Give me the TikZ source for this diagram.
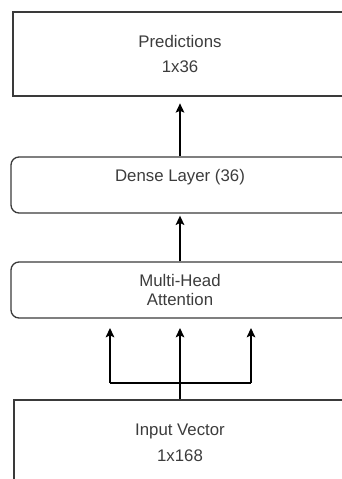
\documentclass[tikz,border=0pt]{standalone}
\usepackage{fontspec}
\setmainfont{Liberation Sans}
\usetikzlibrary{arrows.meta}
\definecolor{boxline}{HTML}{3A3A3A}
\definecolor{boxtext}{HTML}{3C3C3C}
\tikzset{
	layer/.style={draw=boxline, line width=1pt, text=boxtext, align=center,
		inner sep=0pt, font=\fontsize{12.6}{14.2}\selectfont},
	roundlayer/.style={layer, rounded corners=6pt},
	flow/.style={draw=black, line width=1.1pt,
		-{Stealth[length=7pt, width=6.5pt, inset=1.5pt]}},
	joint/.style={draw=black, line width=1.1pt}
}
\begin{document}
\begin{tikzpicture}[x=0.75pt, y=-0.75pt]
			%%%%% START %%%%%
			
			\useasboundingbox (0, 0) rectangle (342, 479);
			\clip (0, 0) rectangle (342, 479);
			
			\node[layer, minimum width=250.5pt, minimum height=63pt] (pred) at (180, 54) {Predictions\\[5pt]1x36};
			\node[roundlayer, minimum width=253.5pt, minimum height=42pt] (dense) at (180, 185) {Dense Layer (36)\\\mbox{}};
			\node[roundlayer, minimum width=253.5pt, minimum height=42pt] (mha) at (180, 290) {Multi-Head\\Attention};
			\node[layer, minimum width=249pt, minimum height=64.5pt] (input) at (180, 443) {Input Vector\\[5pt]1x168};
			
			\coordinate (split) at (180, 383);
			\coordinate (splitL) at (110, 383);
			\coordinate (splitR) at (251, 383);
			\coordinate (headL) at (110, 328);
			\coordinate (headM) at (180, 328);
			\coordinate (headR) at (251, 328);
			
			\draw[flow] (dense.north) -- ([yshift=-5pt]pred.south);
			\draw[flow] (mha.north) -- ([yshift=-1.5pt]dense.south);
			
			\draw[flow] (input.north) -- (headM);
			\draw[joint] (splitL) -- (splitR);
			\draw[flow] (splitL) -- (headL);
			\draw[flow] (splitR) -- (headR);
			
			%%%%% END %%%%%
\end{tikzpicture}
\end{document}
